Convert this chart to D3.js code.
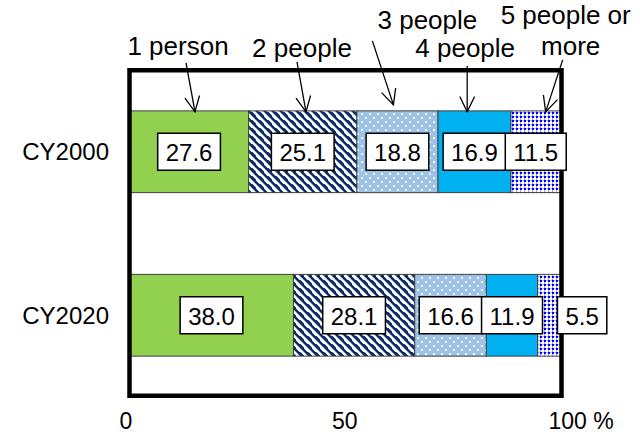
<!DOCTYPE html>
<html>
<head>
<meta charset="utf-8">
<script src="https://cdn.jsdelivr.net/npm/d3@7"></script>
<style>
  html, body { margin: 0; padding: 0; background: #fff; }
  svg { display: block; font-family: "Liberation Sans", Arial, sans-serif; }
</style>
</head>
<body>
<svg id="chart" width="640" height="439"></svg>
<script>
// Household size shares (%) by year
const categories = ["CY2000", "CY2020"];
const seriesNames = ["1 person", "2 people", "3 people", "4 people", "5 people or more"];
const valuesCY2000 = [27.6, 25.1, 18.8, 16.9, 11.5];
const valuesCY2020 = [38.0, 28.1, 16.6, 11.9, 5.5];
const tickValues = [0, 50, 100];

const rows = categories.map((c, i) => {
  const vals = i === 0 ? valuesCY2000 : valuesCY2020;
  const r = { year: c };
  seriesNames.forEach((s, j) => r[s] = vals[j]);
  return r;
});

const svg = d3.select("#chart");
const defs = svg.append("defs");

// fills: solid, wide downward diagonal, dotted, solid, dense dotted grid
function stripes(id) {
  const p = defs.append("pattern").attr("id", id)
    .attr("patternUnits", "userSpaceOnUse").attr("width", 8).attr("height", 8);
  p.append("rect").attr("width", 8).attr("height", 8).attr("fill", "#fff");
  p.append("path").attr("d", "M0,0L4.5,0L8,3.5L8,8Z M0,4.5L3.5,8L0,8Z").attr("fill", "#0b2a66");
}
function dots(id) {
  const p = defs.append("pattern").attr("id", id)
    .attr("patternUnits", "userSpaceOnUse").attr("width", 8).attr("height", 8);
  p.append("rect").attr("width", 8).attr("height", 8).attr("fill", "#9dc3e6");
  p.append("rect").attr("x", 1).attr("y", 1).attr("width", 2).attr("height", 2).attr("fill", "#fff").attr("opacity", 0.85);
  p.append("rect").attr("x", 5).attr("y", 5).attr("width", 2).attr("height", 2).attr("fill", "#fff").attr("opacity", 0.85);
}
function grid(id) {
  const p = defs.append("pattern").attr("id", id)
    .attr("patternUnits", "userSpaceOnUse").attr("width", 4).attr("height", 4);
  p.append("rect").attr("width", 4).attr("height", 4).attr("fill", "#fff");
  p.append("rect").attr("x", 0).attr("y", 2).attr("width", 1).attr("height", 2).attr("fill", "#9a9aff");
  p.append("rect").attr("x", 0).attr("y", 0).attr("width", 2).attr("height", 2).attr("fill", "#0000ff");
  p.append("rect").attr("x", 2).attr("y", 0).attr("width", 2).attr("height", 1).attr("fill", "#b8b8ff");
}
stripes("pat2"); dots("pat3"); grid("pat5");
const fills = ["#92d050", "url(#pat2)", "url(#pat3)", "#00b0f0", "url(#pat5)"];

const x = d3.scaleLinear().domain([0, 100]).range([129.5, 561]);
const y = d3.scaleBand().domain(categories).range([70, 397])
  .paddingInner(0.5).paddingOuter(0.25);

const stacked = d3.stack().keys(seriesNames)(rows);

// bar segments
const layers = svg.append("g").selectAll("g").data(stacked).join("g")
  .attr("fill", (d, i) => fills[i]);
layers.selectAll("rect").data(d => d).join("rect")
  .attr("x", d => x(d[0]))
  .attr("y", d => y(d.data.year))
  .attr("width", d => x(d[1]) - x(d[0]))
  .attr("height", y.bandwidth())
  .attr("stroke", "#404040").attr("stroke-width", 1);

// plot frame
svg.append("rect")
  .attr("x", x(0)).attr("y", 70.25)
  .attr("width", x(100) - x(0) + 0.5).attr("height", 325.5)
  .attr("fill", "none").attr("stroke", "#000").attr("stroke-width", 4.5);

// value labels in boxed callouts
const labels = svg.append("g");
stacked.forEach(layer => {
  layer.forEach(d => {
    const val = d[1] - d[0];
    const segW = x(d[1]) - x(d[0]);
    const cy = y(d.data.year) + y.bandwidth() / 2;
    const g = labels.append("g");
    const t = g.append("text").text(d3.format(".1f")(val))
      .attr("font-size", 24).attr("text-anchor", "middle")
      .attr("dominant-baseline", "central").attr("fill", "#000");
    const tw = t.node().getComputedTextLength();
    const bw = tw + 16, bh = 37;
    let cx = (x(d[0]) + x(d[1])) / 2;
    if (segW < 30) cx = x(d[1]) - 4 + bw / 2;   // narrow segment: label outside the end
    t.attr("x", cx).attr("y", cy + 1);
    g.insert("rect", "text")
      .attr("x", cx - bw / 2).attr("y", cy - bh / 2)
      .attr("width", bw).attr("height", bh)
      .attr("fill", "#fff").attr("stroke", "#000").attr("stroke-width", 1.5);
  });
});

// category labels
svg.append("g").selectAll("text").data(categories).join("text")
  .attr("x", 109).attr("y", d => y(d) + y.bandwidth() / 2)
  .attr("text-anchor", "end").attr("dominant-baseline", "central")
  .attr("font-size", 24).attr("fill", "#000").text(d => d);

// value axis
const axis = svg.append("g").attr("transform", "translate(0,413)")
  .call(d3.axisBottom(x).tickValues(tickValues).tickSize(0).tickPadding(0)
    .tickFormat(d => d === 100 ? "100 %" : d));
axis.select(".domain").remove();
axis.selectAll("text").attr("font-size", 23).attr("fill", "#000")
  .attr("font-family", "Liberation Sans, Arial, sans-serif")
  .attr("dy", "0.71em");
axis.selectAll(".tick").each(function (d) {
  const t = d3.select(this).select("text");
  if (d === 100) {
    t.attr("text-anchor", "start").attr("x", -13);
  } else if (d === 0) {
    t.attr("x", -4);
  } else {
    t.attr("x", -1);
  }
});

// series callouts with arrows pointing to the CY2000 segments
const callouts = [
  { frac: 0.55, lift: 0, tail: [-9, -49], lines: ["1 person"], tx: [-17], ty: [-57] },
  { frac: 0.53, lift: 0, tail: [-9, -50], lines: ["2 people"], tx: [-4], ty: [-55] },
  { frac: 0.45, lift: 7, tail: [-21, -64], lines: ["3 people"], tx: [34], ty: [-76] },
  { frac: 0.40, lift: 0, tail: [0, -46], lines: ["4 people"], tx: [-2], ty: [-55] },
  { frac: 0.70, lift: 0, tail: [17, -52], lines: ["5 people or", "more"], tx: [20, 25], ty: [-88, -57] }
];
const firstRow = stacked.map(layer => layer[0]);
const ann = svg.append("g");
callouts.forEach((c, i) => {
  const d = firstRow[i];
  const tipX = x(d[0]) + c.frac * (x(d[1]) - x(d[0]));
  const tipY = y(d.data.year) + 1 - c.lift;
  const sx = tipX + c.tail[0], sy = tipY + c.tail[1];
  ann.append("line").attr("x1", sx).attr("y1", sy).attr("x2", tipX).attr("y2", tipY)
    .attr("stroke", "#000").attr("stroke-width", 1.3);
  const ang = Math.atan2(tipY - sy, tipX - sx);
  const L = 17, spread = 0.45;
  const p1 = [tipX - L * Math.cos(ang - spread), tipY - L * Math.sin(ang - spread)];
  const p2 = [tipX - L * Math.cos(ang + spread), tipY - L * Math.sin(ang + spread)];
  ann.append("path")
    .attr("d", `M${p1[0]},${p1[1]}L${tipX},${tipY}L${p2[0]},${p2[1]}`)
    .attr("fill", "none").attr("stroke", "#000").attr("stroke-width", 1.3);
  c.lines.forEach((ln, k) => {
    ann.append("text").attr("x", tipX + c.tx[k]).attr("y", tipY + c.ty[k])
      .attr("text-anchor", "middle").attr("font-size", 26).attr("fill", "#000").text(ln);
  });
});
</script>
</body>
</html>
